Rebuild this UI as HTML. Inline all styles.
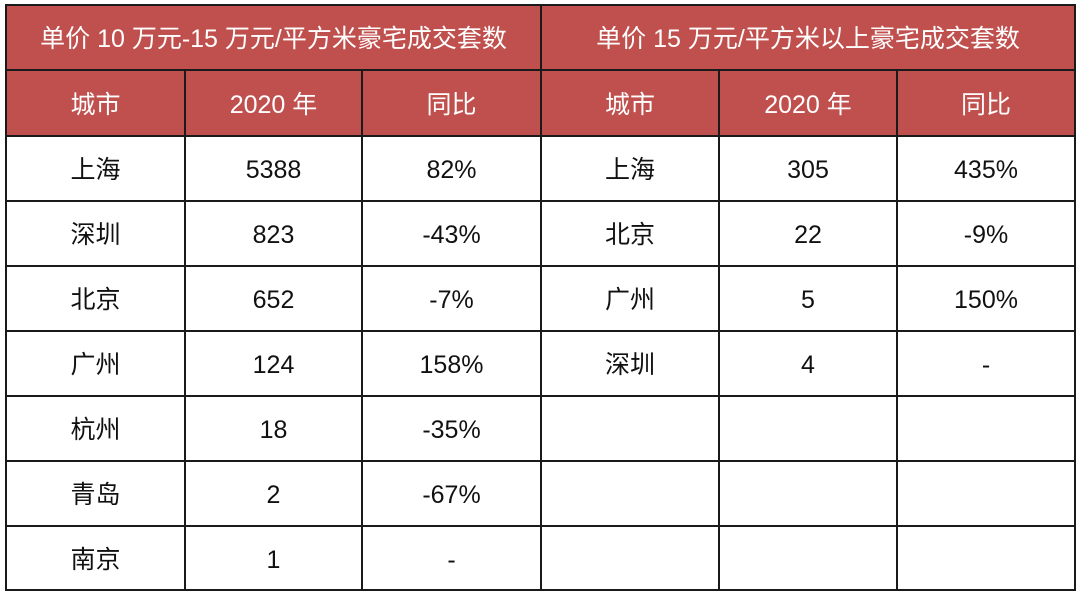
<!DOCTYPE html>
<html><head><meta charset="utf-8"><style>
body{margin:0;width:1080px;height:598px;background:#fff;position:relative;overflow:hidden;font-family:"Liberation Sans","Noto Sans CJK SC",sans-serif;}
.c{position:absolute;box-sizing:border-box;display:flex;align-items:center;justify-content:center;font-size:25px;color:#111;line-height:1;padding-top:4px;}
.h{background:#c0504d;color:#fff;}
.hl{position:absolute;background:#1a1a1a;height:2px;}
.vl{position:absolute;background:#1a1a1a;width:2px;}
</style></head><body>
<div class="c h" style="left:6px;top:5px;width:1069px;height:131px;"></div>
<div class="c h" style="left:6px;top:5px;width:535px;height:65px;">单价 10 万元-15 万元/平方米豪宅成交套数</div>
<div class="c h" style="left:541px;top:5px;width:534px;height:65px;">单价 15 万元/平方米以上豪宅成交套数</div>
<div id="cells"></div>
<script>
var xs=[6,185,362,541,719,897,1075];
var ys=[5,70,136,201,266,331,396,461,526,590];
var out="";
var hdr=["城市","2020 年","同比","城市","2020 年","同比"];
for(var i=0;i<6;i++)out+='<div class="c h" style="left:'+xs[i]+'px;top:70px;width:'+(xs[i+1]-xs[i])+'px;height:66px">'+hdr[i]+'</div>';
var L=[["上海","5388","82%"],["深圳","823","-43%"],["北京","652","-7%"],["广州","124","158%"],["杭州","18","-35%"],["青岛","2","-67%"],["南京","1","-"]];
var R=[["上海","305","435%"],["北京","22","-9%"],["广州","5","150%"],["深圳","4","-"]];
for(var r=0;r<7;r++){var row=L[r].concat(R[r]||["","",""]);
for(var i=0;i<6;i++)out+='<div class="c" style="left:'+xs[i]+'px;top:'+ys[r+2]+'px;width:'+(xs[i+1]-xs[i])+'px;height:'+(ys[r+3]-ys[r+2])+'px">'+row[i]+'</div>';}
for(var j=0;j<ys.length;j++)out+='<div class="hl" style="left:6px;width:1070px;top:'+(ys[j]-1)+'px"></div>';
for(var i=0;i<xs.length;i++){var t=(i==0||i==3||i==6)?4:70;out+='<div class="vl" style="left:'+(xs[i]-1)+'px;top:'+t+'px;height:'+(591-t)+'px"></div>';}
document.getElementById("cells").innerHTML=out;
</script>
</body></html>
